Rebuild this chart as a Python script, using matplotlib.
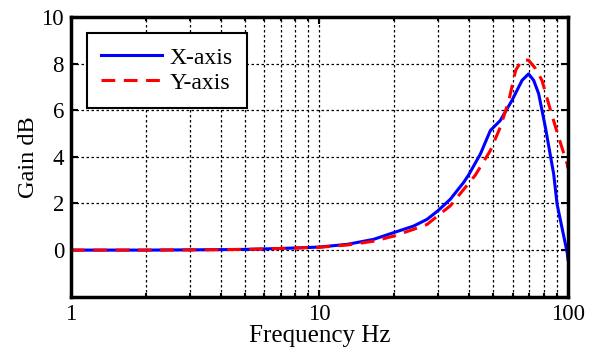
import matplotlib
matplotlib.use('Agg')
import matplotlib.pyplot as plt
from matplotlib.ticker import LogLocator, NullFormatter, FixedLocator

plt.rcParams['font.family'] = ['Liberation Serif', 'DejaVu Serif']

# frequency (Hz) and gain (dB)
freq_x = [1, 2, 3, 4, 5, 6, 7, 8, 10, 13, 16.5, 19.9, 23.9, 27.1, 29.9, 33.6,
          38.0, 39.8, 44.4, 48.7, 53.4, 59.5, 65.3, 69.4, 72.8, 76.2, 81.1,
          87.6, 90.4, 99.3, 100]
gain_x = [0.0, 0.0, 0.01, 0.02, 0.03, 0.05, 0.07, 0.09, 0.13, 0.25, 0.46, 0.75,
          1.03, 1.32, 1.68, 2.18, 2.9, 3.22, 4.12, 5.13, 5.56, 6.42, 7.28, 7.56,
          7.28, 6.71, 5.27, 3.26, 1.97, -0.12, -0.4]

freq_y = [1, 2, 3, 4, 5, 6, 7, 8, 10, 13, 16.5, 19.9, 23.9, 27.1, 29.9, 33.6,
          39.1, 42.4, 48.7, 53.4, 57.8, 61.6, 65.3, 69.4, 74.0, 78.6, 85.1,
          91.7, 99.3, 100]
gain_y = [0.0, 0.0, 0.01, 0.02, 0.03, 0.05, 0.07, 0.09, 0.12, 0.22, 0.38, 0.6,
          0.89, 1.1, 1.47, 1.9, 2.76, 3.22, 4.27, 5.27, 6.42, 7.72, 8.15, 8.15,
          7.79, 7.28, 5.99, 4.84, 3.69, 3.5]

fig = plt.figure(figsize=(5.94, 3.5), dpi=100)
ax = fig.add_axes([0.1195, 0.1523, 0.8367, 0.799])

ax.plot(freq_x, gain_x, color='#0000ff', lw=2.2, label='X-axis')
ax.plot(freq_y, gain_y, color='#ff0000', lw=2.2, dashes=(4.5, 2.8), label='Y-axis')

ax.set_xscale('log')
ax.set_xlim(1, 100)
ax.set_ylim(-2, 10)
ax.set_yticks([0, 2, 4, 6, 8, 10])
ax.xaxis.set_major_locator(FixedLocator([1, 10, 100]))
ax.set_xticklabels(['1', '10', '100'])
ax.xaxis.set_minor_locator(LogLocator(base=10, subs=range(2, 10)))
ax.xaxis.set_minor_formatter(NullFormatter())

ax.grid(True, which='major', color='black', ls=(0, (2, 2)), lw=0.9)
ax.grid(True, which='minor', axis='x', color='black', ls=(0, (2, 2)), lw=0.9)

for s in ax.spines.values():
    s.set_linewidth(2.5)
ax.tick_params(direction='in', which='both', top=True, right=True,
               labelsize=16.5, length=5, width=1.5, pad=5)
ax.tick_params(which='minor', length=3)

ax.set_xlabel('Frequency Hz', fontsize=18, labelpad=0)
ax.set_ylabel('Gain dB', fontsize=17.5, labelpad=2)

leg = ax.legend(loc='upper left', bbox_to_anchor=(0.032, 0.943), fontsize=17,
                fancybox=False, framealpha=1, edgecolor='black',
                handlelength=2.6, borderpad=0.6, labelspacing=0.15,
                handletextpad=0.3, borderaxespad=0)
leg.get_frame().set_linewidth(1.5)

fig.savefig('out.png', dpi=100)
